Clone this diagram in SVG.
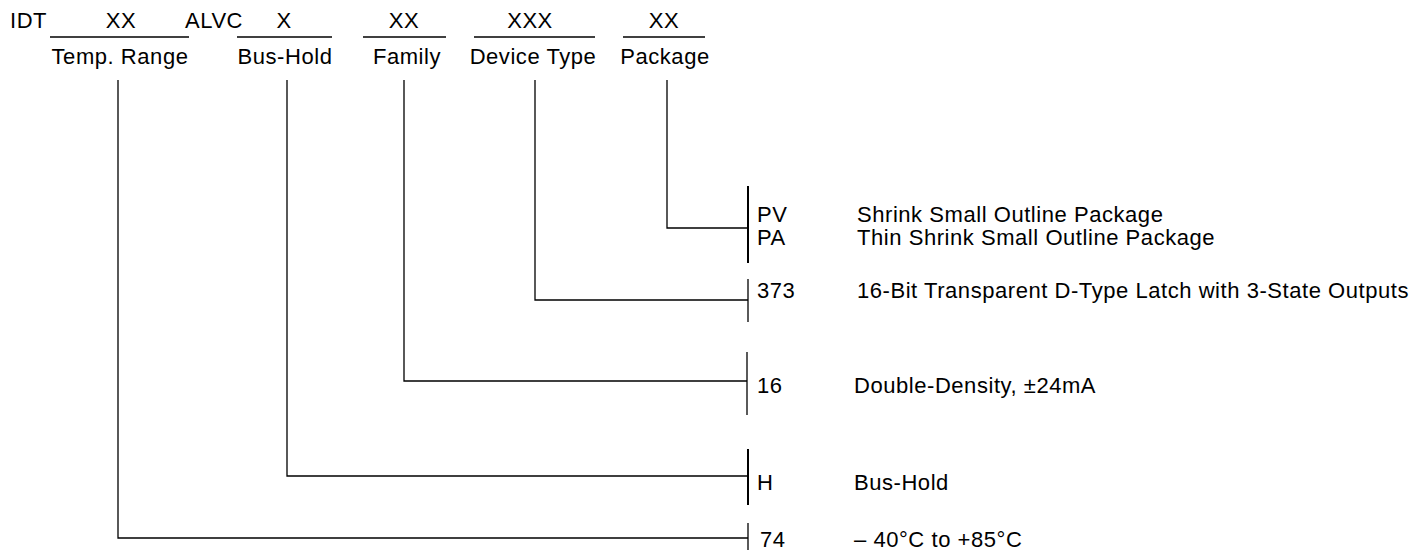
<svg xmlns="http://www.w3.org/2000/svg" width="1416" height="550" viewBox="0 0 1416 550">
<style>
text{font-family:"Liberation Sans",Arial,sans-serif;font-size:22px;letter-spacing:0.55px;fill:#000}
.c{text-anchor:middle}
.ln{stroke:#000;stroke-width:1.3;fill:none}
.bar{stroke:#000;stroke-width:2;fill:none}
</style>
<rect width="1416" height="550" fill="#fff"/>
<g id="header">
<text x="10" y="28">IDT</text>
<text x="185" y="28">ALVC</text>
</g>
<g id="temp-range">
<text class="c" x="121" y="28">XX</text>
<line class="ln" x1="50" y1="37" x2="189" y2="37"/>
<text class="c" x="120" y="64">Temp. Range</text>
</g>
<g id="bus-hold">
<text class="c" x="284" y="28">X</text>
<line class="ln" x1="237" y1="37" x2="332" y2="37"/>
<text class="c" x="285" y="64">Bus-Hold</text>
</g>
<g id="family">
<text class="c" x="404" y="28">XX</text>
<line class="ln" x1="363" y1="37" x2="446" y2="37"/>
<text class="c" x="407" y="64">Family</text>
</g>
<g id="device-type">
<text class="c" x="530" y="28">XXX</text>
<line class="ln" x1="474" y1="37" x2="595" y2="37"/>
<text class="c" x="533" y="64">Device Type</text>
</g>
<g id="package">
<text class="c" x="664" y="28">XX</text>
<line class="ln" x1="623" y1="37" x2="705" y2="37"/>
<text class="c" x="665" y="64">Package</text>
</g>
<g id="connectors">
<polyline class="ln" points="667,80 667,228 748,228"/>
<polyline class="ln" points="535,80 535,300 748,300"/>
<polyline class="ln" points="404,80 404,381 747,381"/>
<polyline class="ln" points="287,80 287,476 748,476"/>
<polyline class="ln" points="118,80 118,538 748,538"/>
</g>
<g id="opt-package">
<line class="bar" x1="748" y1="186" x2="748" y2="263"/>
<text x="757" y="222">PV</text>
<text x="857" y="222">Shrink Small Outline Package</text>
<text x="757" y="245">PA</text>
<text x="857" y="245">Thin Shrink Small Outline Package</text>
</g>
<g id="opt-device">
<line class="ln" x1="748" y1="279" x2="748" y2="322"/>
<text x="757" y="298">373</text>
<text x="857" y="298">16-Bit Transparent D-Type Latch with 3-State Outputs</text>
</g>
<g id="opt-family">
<line class="ln" x1="747" y1="352" x2="747" y2="415" stroke="#666"/>
<text x="757" y="393">16</text>
<text x="854" y="393">Double-Density, ±24mA</text>
</g>
<g id="opt-bushold">
<line class="bar" x1="748" y1="449" x2="748" y2="505"/>
<text x="757" y="490">H</text>
<text x="854" y="490">Bus-Hold</text>
</g>
<g id="opt-temp">
<line class="ln" x1="748" y1="523" x2="748" y2="550"/>
<text x="760" y="547">74</text>
<text x="854" y="547">– 40°C to +85°C</text>
</g>
</svg>
